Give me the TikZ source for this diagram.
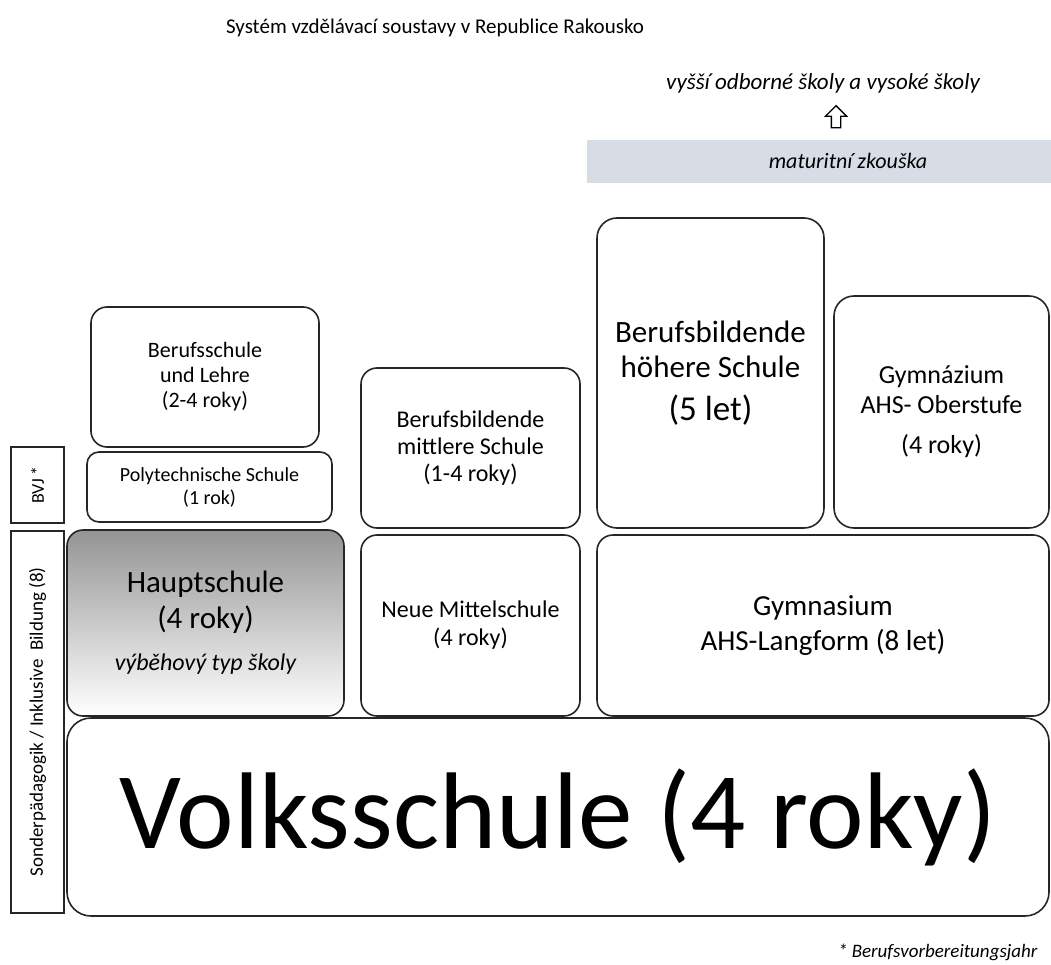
\documentclass[tikz,border=0pt]{standalone}
\usepackage{fontspec}
\setmainfont{Carlito}
\usetikzlibrary{shapes.arrows}
\definecolor{pasmo}{HTML}{D8DDE5}
\begin{document}
\begin{tikzpicture}[x=1pt,y=-1pt,
  skola/.style={draw=black!85, line width=1.6pt, rounded corners=16pt, align=center, inner sep=0pt},
  okraj/.style={draw=black!85, line width=1.2pt, inner sep=0pt, rotate=90},
  pismo/.style 2 args={font=\fontsize{#1}{#2}\selectfont}]
\useasboundingbox (0,0) rectangle (1051,965);
\node[pismo={21}{25}] (nadpis) at (435,28) {Systém vzdělávací soustavy v Republice Rakousko};
\node[pismo={23}{27}] (vyssi) at (823,83) {\itshape vyšší odborné školy a vysoké školy};
\node[fill=pasmo, minimum width=464pt, minimum height=43pt, inner sep=0pt] (matura) at (819,161.5) {};
\node[pismo={22}{26}] (maturatext) at (848,161) {\itshape maturitní zkouška};
\node[single arrow, draw=black, line width=1.3pt, rotate=90, inner sep=4pt,
  minimum height=22pt, single arrow head extend=6pt] (sipka) at (836,119) {};
\node[skola, minimum width=228pt, minimum height=140pt, pismo={22}{25}] (lehre) at (205,377)
  {Berufsschule\\und Lehre\\(2-4 roky)};
\node[skola, rounded corners=12pt, minimum width=245pt, minimum height=70pt, pismo={20}{23}] (poly) at (209.5,487)
  {Polytechnische Schule\\(1 rok)};
\node[skola, top color=black!42, bottom color=white, minimum width=277pt, minimum height=186pt, pismo={31}{36}] (haupt) at (205.5,623)
  {Hauptschule\\(4 roky)\\[6pt]{\fontsize{24}{28}\selectfont\itshape výběhový typ školy}};
\node[skola, minimum width=219pt, minimum height=160pt, pismo={24}{27}] (bms) at (470.5,448)
  {Berufsbildende\\mittlere Schule\\(1-4 roky)};
\node[skola, minimum width=219pt, minimum height=181pt, pismo={24}{28}] (neue) at (470.5,625.5)
  {Neue Mittelschule\\(4 roky)};
\node[skola, rounded corners=20pt, minimum width=227pt, minimum height=310pt, pismo={31}{35}] (bhs) at (710.5,373)
  {Berufsbildende\\höhere Schule\\[8pt]{\fontsize{35}{40}\selectfont(5 let)}};
\node[skola, rounded corners=20pt, minimum width=215pt, minimum height=232pt, pismo={26}{30}] (ober) at (941.5,412)
  {Gymnázium\\AHS- Oberstufe\\[10pt](4 roky)};
\node[skola, minimum width=452pt, minimum height=181pt, pismo={29}{35}] (lang) at (823,625.5)
  {Gymnasium\\AHS-Langform (8 let)};
\node[skola, rounded corners=24pt, minimum width=982pt, minimum height=198pt, pismo={109}{124}] (volks) at (558,817)
  {Volksschule (4 roky)};
\node[okraj, minimum width=76pt, minimum height=53pt, pismo={18}{21}] (bvj) at (37.5,485) {BVJ *};
\node[okraj, minimum width=382pt, minimum height=53pt, pismo={19}{22}] (sonder) at (37.5,722)
  {Sonderpädagogik / Inklusive\ \ Bildung (8)};
\node[anchor=east, pismo={19}{22}] (pozn) at (1041,952) {\itshape * Berufsvorbereitungsjahr};
\end{tikzpicture}
\end{document}
